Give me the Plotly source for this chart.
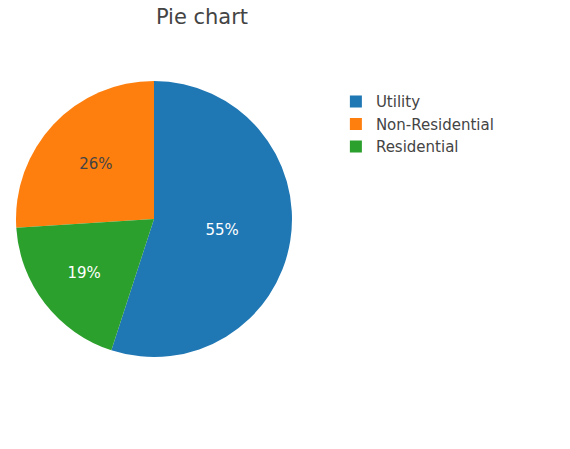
import plotly.graph_objects as go

# Datos del pastel
etiquetas = ["Utility", "Non-Residential", "Residential"]
valores = [55, 26, 19]
colores = ["#1f77b4", "#ff7f0e", "#2ca02c"]

fig = go.Figure(go.Pie(
    labels=etiquetas,
    values=valores,
    marker=dict(colors=colores),
    sort=False,
    direction="counterclockwise",
    rotation=0,
    textinfo="percent",
    textfont=dict(size=15),
))

fig.update_layout(
    width=570, height=449,
    font=dict(family="DejaVu Sans", color="#444", size=15),
    title=dict(text="Pie chart", x=194 / 570, xanchor="center", xref="container",
               y=1 - 1 / 449, yanchor="top", yref="container",
               font=dict(size=21)),
    margin=dict(l=8, r=286, t=73, b=100),
    legend=dict(x=1.159, y=0.985, xanchor="left", yanchor="top", font=dict(size=15)),
    paper_bgcolor="white",
)

fig.write_html("out.html")
